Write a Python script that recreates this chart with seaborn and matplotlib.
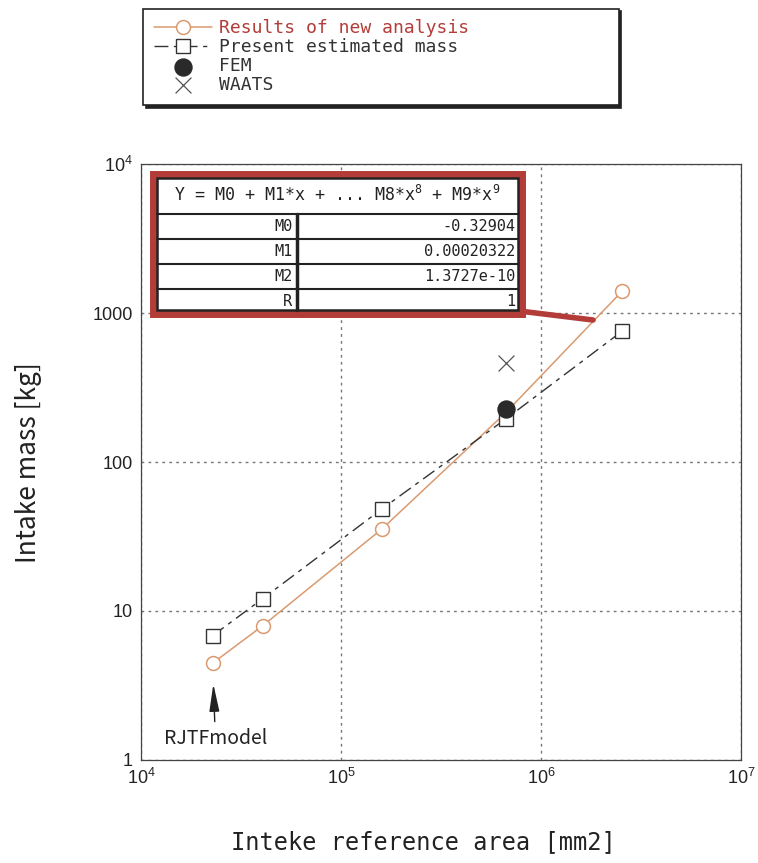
import matplotlib
matplotlib.use('Agg')
import numpy as np
import pandas as pd
import matplotlib.pyplot as plt
import seaborn as sns
from matplotlib.patches import Rectangle
from matplotlib import font_manager

# values
area = [22800, 40600, 160000, 667000, 2550000]
new_mass = [4.46, 7.96, 35.5, 215, 1410]
present_mass = [6.82, 12.1, 48.4, 195, 759]
fem_area = [667000]
fem_mass = [226]
waats_area = [667000]
waats_mass = [465]

coef_names = ['M0', 'M1', 'M2', 'R']
coef_values = ['-0.32904', '0.00020322', '1.3727e-10', '1']
fit_header = r'Y = M0 + M1*x + ... M8*x$^{8}$ + M9*x$^{9}$'

y_ticks = [1, 10, 100, 1000, 10000]
y_ticklabels = ['1', '10', '100', '1000', r'10$^{4}$']
x_ticks = [1e4, 1e5, 1e6, 1e7]
x_ticklabels = [r'10$^{4}$', r'10$^{5}$', r'10$^{6}$', r'10$^{7}$']

installed = {f.name for f in font_manager.fontManager.ttflist}
label_font = 'Liberation Sans Narrow' if 'Liberation Sans Narrow' in installed else 'Noto Sans CJK JP'
mono = 'DejaVu Sans Mono'

sns.set_style('white')
plt.rcParams['font.family'] = ['Liberation Sans', 'DejaVu Sans']
plt.rcParams['mathtext.default'] = 'regular'

ORANGE = '#d99a70'
RED = '#b33c38'
DARK = '#333333'

fig = plt.figure(figsize=(7.58, 8.63), dpi=100)
ax = fig.add_axes([0.186, 0.1195, 0.7916, 0.6901])

sns.lineplot(x=area, y=new_mass, ax=ax, color=ORANGE, lw=1.1, marker='o',
             markersize=10, markerfacecolor='white', markeredgecolor=ORANGE,
             markeredgewidth=1.1, label='Results of new analysis', zorder=3)
sns.lineplot(x=area, y=present_mass, ax=ax, color=DARK, lw=1.0,
             linestyle=(0, (10, 4, 3, 4)), marker='s', markersize=10,
             markerfacecolor='white', markeredgecolor=DARK, markeredgewidth=1.0,
             label='Present estimated mass', zorder=3)
sns.scatterplot(x=fem_area, y=fem_mass, ax=ax, color='#2a2a2a', marker='o',
                s=150, edgecolor='#2a2a2a', label='FEM', zorder=5)
sns.scatterplot(x=waats_area, y=waats_mass, ax=ax, color='#555555', marker='x',
                s=130, linewidth=0.9, label='WAATS', zorder=5)

ax.set_xscale('log')
ax.set_yscale('log')
ax.set_xlim(1e4, 1e7)
ax.set_ylim(1, 1e4)
ax.set_xticks(x_ticks, x_ticklabels)
ax.set_yticks(y_ticks, y_ticklabels)
ax.minorticks_off()
ax.tick_params(direction='in', length=4, width=0.8, labelsize=13, colors='#222', pad=6)
ax.grid(True, which='major', color='#777777', linestyle=(0, (2, 3)), linewidth=1.0)
for sp in ax.spines.values():
    sp.set_color('#444444')
    sp.set_linewidth(0.9)

ax.set_ylabel('Intake mass [kg]', fontsize=19, family=label_font, color='#222')
ax.set_xlabel('Inteke reference area [mm2]', fontsize=17, family=mono, color='#222')
ax.yaxis.set_label_coords(-0.165, 0.5)
ax.xaxis.set_label_coords(0.47, -0.118)

# fit result table
t_left, t_split, t_right = 0.020, 0.2604, 0.6344
t_top, head_h, row_h = 0.9833, 0.0669, 0.0418
t_bottom = t_top - head_h - row_h * len(coef_names)
ax.add_patch(Rectangle((t_left, t_bottom), t_right - t_left, t_top - t_bottom,
                       transform=ax.transAxes, facecolor='white', edgecolor=RED,
                       lw=5, zorder=10))
ax.add_patch(Rectangle((t_left + 0.006, t_bottom + 0.006), t_right - t_left - 0.012,
                       t_top - t_bottom - 0.012, transform=ax.transAxes,
                       facecolor='none', edgecolor='#222', lw=1.8, zorder=11))
ax.text((t_left + t_right) / 2, t_top - head_h / 2 - 0.002, fit_header,
        transform=ax.transAxes, ha='center', va='center', fontsize=12,
        family=mono, color='#222', zorder=12)
y = t_top - head_h
ax.plot([t_split, t_split], [t_bottom + 0.006, y], transform=ax.transAxes,
        color='#222', lw=2.5, zorder=11)
for name, val in zip(coef_names, coef_values):
    ax.plot([t_left + 0.006, t_right - 0.006], [y, y], transform=ax.transAxes,
            color='#222', lw=1.5, zorder=11)
    yc = y - row_h / 2
    ax.text(t_split - 0.008, yc, name, transform=ax.transAxes, ha='right',
            va='center', fontsize=11, family=mono, color='#222', zorder=12)
    ax.text(t_right - 0.01, yc, val, transform=ax.transAxes, ha='right',
            va='center', fontsize=11, family=mono, color='#222', zorder=12)
    y -= row_h

# leader from table to the curve
ax.annotate('', xy=(1.82e6, 900), xycoords='data',
            xytext=(t_right, t_bottom + 0.004), textcoords='axes fraction',
            arrowprops=dict(arrowstyle='-', color=RED, lw=4, shrinkA=0, shrinkB=0),
            zorder=9)

ax.annotate('RJTFmodel', xy=(area[0], new_mass[0]), xytext=(2, -54),
            textcoords='offset points', ha='center', va='center', fontsize=14,
            family=label_font, color='#222',
            arrowprops=dict(arrowstyle='-|>,head_length=1.2,head_width=0.22',
                            color='#222', lw=1.0, shrinkA=2, shrinkB=15))

handles, labels = ax.get_legend_handles_labels()
leg = ax.legend(handles, labels, loc='upper left',
                bbox_to_anchor=(0.189, 0.862, 0.627, 0.128),
                bbox_transform=fig.transFigure, mode='expand',
                prop={'family': mono, 'size': 13}, frameon=True, fancybox=False,
                shadow={'color': '#222222', 'alpha': 1.0},
                edgecolor='#222', framealpha=1, handlelength=3.2,
                handletextpad=0.4, labelspacing=0.05, borderpad=0.6,
                borderaxespad=0)
leg.get_frame().set_linewidth(1.2)
for txt in leg.get_texts():
    txt.set_color('#333333')
leg.get_texts()[0].set_color(RED)

fig.savefig('out.png', dpi=100, facecolor='white')
